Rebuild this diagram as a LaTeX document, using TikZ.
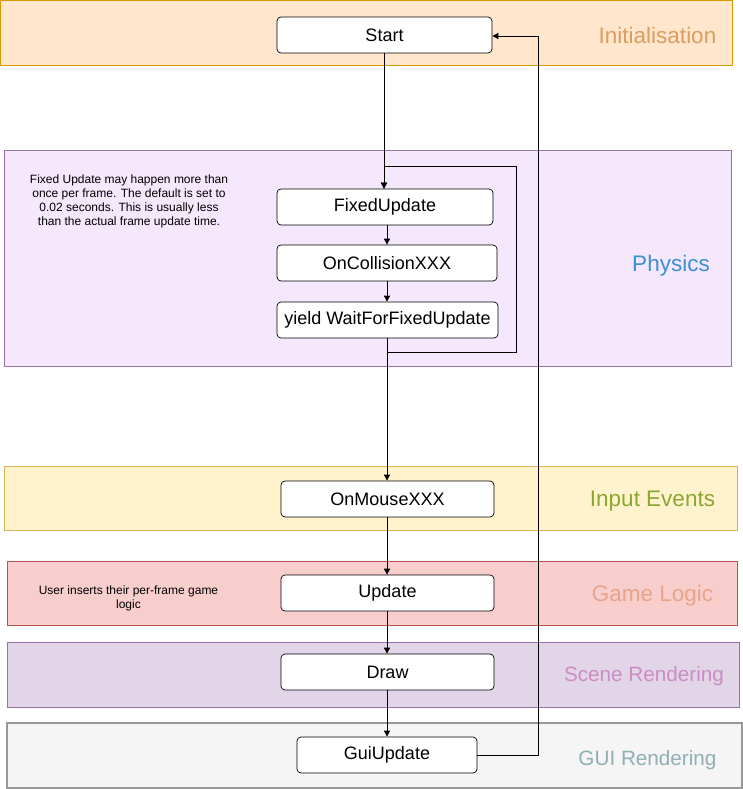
\documentclass[tikz,border=0pt]{standalone}
\usepackage{fontspec}
\setmainfont{Liberation Sans}
\usetikzlibrary{arrows.meta}
\definecolor{initF}{HTML}{FFE6CC}\definecolor{initD}{HTML}{D79B00}\definecolor{initT}{HTML}{DC9D5E}
\definecolor{physF}{HTML}{F6E8FC}\definecolor{physD}{HTML}{9673A6}\definecolor{physT}{HTML}{3A8FD6}
\definecolor{inF}{HTML}{FFF2CC}\definecolor{inD}{HTML}{D6B656}\definecolor{inT}{HTML}{8AA830}
\definecolor{glF}{HTML}{F8CECC}\definecolor{glD}{HTML}{B85450}\definecolor{glT}{HTML}{E8A48A}
\definecolor{scF}{HTML}{E1D5E7}\definecolor{scD}{HTML}{9673A6}\definecolor{scT}{HTML}{CC8CC4}
\definecolor{guF}{HTML}{F5F5F5}\definecolor{guD}{HTML}{999999}\definecolor{guT}{HTML}{8FAFB5}
\begin{document}
\begin{tikzpicture}[x=1pt,y=-1pt,
  band/.style={line width=0.8pt},
  stepbox/.style={draw=black, fill=white, rounded corners=4pt, line width=0.7pt, inner sep=0pt, minimum height=36pt, font=\fontsize{18}{21}\selectfont},
  lane/.style={anchor=center, font=\fontsize{22.5}{26}\selectfont},
  lanesmall/.style={anchor=center, font=\fontsize{20.7}{24}\selectfont},
  note/.style={align=center, font=\fontsize{12}{14.2}\selectfont},
  flow/.style={-{Triangle[length=6pt,width=6pt]}, line width=0.7pt}
]
\useasboundingbox (0,0) rectangle (743,789);
% bands
\draw[band, fill=initF, draw=initD] (0.5,0.5) rectangle (732,65);
\draw[band, fill=physF, draw=physD] (4,150) rectangle (731,366);
\draw[band, fill=inF, draw=inD] (4,466) rectangle (737,530);
\draw[band, fill=glF, draw=glD] (7,561) rectangle (737,625);
\draw[band, fill=scF, draw=scD] (7,642) rectangle (739,707);
\draw[line width=1.2pt, fill=guF, draw=guD] (7,723) rectangle (742,788);
% band labels
\node[lane, text=initT] (lInit) at (657.5,35) {Initialisation};
\node[lane, text=physT] (lPhys) at (671,266) {Physics};
\node[lane, text=inT] (lIn) at (652.5,501) {Input Events};
\node[lane, text=glT] (lGl) at (652.5,596) {Game Logic};
\node[lanesmall, text=scT] (lSc) at (644,676) {Scene Rendering};
\node[lanesmall, text=guT] (lGu) at (647.5,760) {GUI Rendering};
% notes
\node[note] (nFixed) at (129,201.5) {Fixed Update may happen more than\\once per frame. The default is set to\\0.02 seconds. This is usually less\\than the actual frame update time.};
\node[note] (nUser) at (128.5,598.5) {User inserts their per-frame game\\logic};
% step nodes
\node[stepbox, minimum width=215pt] (start) at (384.5,35) {Start};
\node[stepbox, minimum width=216pt] (fixed) at (385,207) {FixedUpdate};
\node[stepbox, minimum width=220pt] (coll) at (387,263) {OnCollisionXXX};
\node[stepbox, minimum width=221pt] (yield) at (387.5,320) {yield WaitForFixedUpdate};
\node[stepbox, minimum width=213pt] (mouse) at (387.5,499) {OnMouseXXX};
\node[stepbox, minimum width=213pt] (update) at (387.5,593) {Update};
\node[stepbox, minimum width=213pt] (draw) at (387.5,672) {Draw};
\node[stepbox, minimum width=180pt] (gui) at (387,755) {GuiUpdate};
% connectors
\draw[flow] (start.south -| 384,0) -- (fixed.north -| 384,0);
\draw[flow] (fixed.south -| 387,0) -- (coll.north -| 387,0);
\draw[flow] (coll.south -| 387,0) -- (yield.north -| 387,0);
\draw[flow] (yield.south -| 387,0) -- (mouse.north -| 387,0);
\draw[flow] (yield.south -| 387,0) -- (387,352) -- (516,352) -- (516,166) -- (384,166) -- (fixed.north -| 384,0);
\draw[flow] (mouse.south -| 387,0) -- (update.north -| 387,0);
\draw[flow] (update.south -| 387,0) -- (draw.north -| 387,0);
\draw[flow] (draw.south -| 387,0) -- (gui.north -| 387,0);
\draw[flow] (gui.east) -- (538,755) -- (538,36) -- (start.east |- 0,36);
\end{tikzpicture}
\end{document}
